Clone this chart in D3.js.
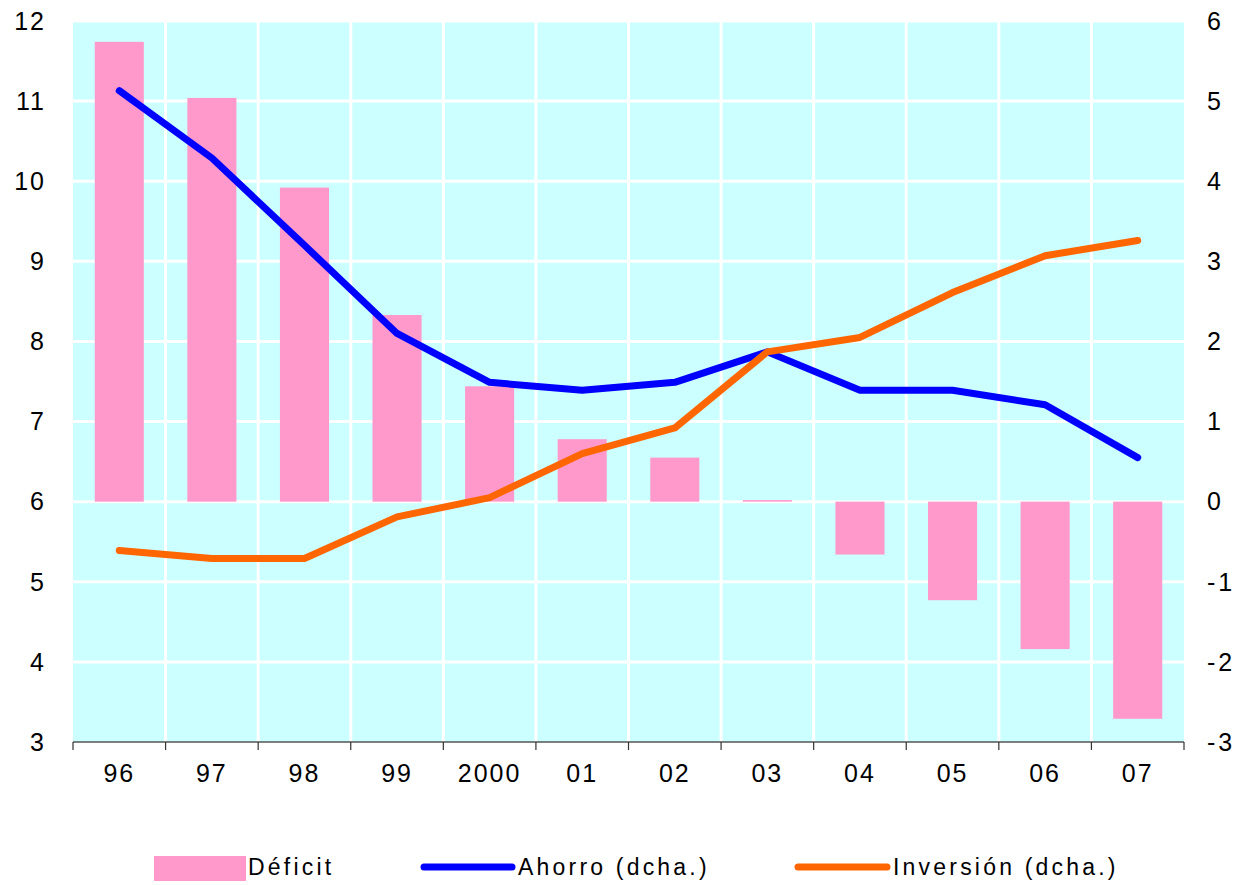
<!doctype html>
<html>
<head>
<meta charset="utf8">
<script src="https://d3js.org/d3.v7.min.js"></script>
<style>
  body { margin: 0; background: #fff; }
  text { font-family: "Liberation Sans", Arial, sans-serif; fill: #000; }
</style>
</head>
<body>
<svg width="1240" height="885"></svg>
<script>
// data
var years = ["96", "97", "98", "99", "2000", "01", "02", "03", "04", "05", "06", "07"];
var deficit = [5.74, 5.04, 3.92, 2.33, 1.44, 0.78, 0.55, 0.02, -0.66, -1.23, -1.84, -2.71];
var ahorro = [5.13, 4.29, 3.2, 2.1, 1.49, 1.39, 1.49, 1.87, 1.39, 1.39, 1.21, 0.55];
var inversion = [-0.61, -0.71, -0.71, -0.19, 0.05, 0.6, 0.92, 1.87, 2.05, 2.61, 3.07, 3.26];
var leftTicks = [3, 4, 5, 6, 7, 8, 9, 10, 11, 12];
var rightTicks = [-3, -2, -1, 0, 1, 2, 3, 4, 5, 6];

var svg = d3.select("svg");
var pLeft = 73, pRight = 1184, pTop = 21, pBottom = 742;

var x = d3.scaleBand().domain(years).range([pLeft, pRight]).padding(0);
var yL = d3.scaleLinear().domain([3, 12]).range([pBottom, pTop]);
var yR = d3.scaleLinear().domain([-3, 6]).range([pBottom, pTop]);

// plot background
svg.append("rect")
   .attr("x", pLeft).attr("y", pTop)
   .attr("width", pRight - pLeft).attr("height", pBottom - pTop)
   .attr("fill", "#ccffff");

// grid lines
svg.append("g").selectAll("line")
   .data(leftTicks.slice(1))
   .enter().append("line")
   .attr("x1", pLeft).attr("x2", pRight)
   .attr("y1", function(d) { return yL(d); })
   .attr("y2", function(d) { return yL(d); })
   .attr("stroke", "#fff").attr("stroke-width", 3);

svg.append("g").selectAll("line")
   .data(years.slice(1))
   .enter().append("line")
   .attr("x1", function(d) { return x(d); })
   .attr("x2", function(d) { return x(d); })
   .attr("y1", pTop).attr("y2", pBottom)
   .attr("stroke", "#fff").attr("stroke-width", 3);

// bars
var bw = x.bandwidth() * 0.53;
svg.append("g").selectAll("rect")
   .data(deficit)
   .enter().append("rect")
   .attr("x", function(d, i) { return x(years[i]) + (x.bandwidth() - bw) / 2; })
   .attr("y", function(d) { return yR(Math.max(d, 0)); })
   .attr("width", bw)
   .attr("height", function(d) { return Math.max(Math.abs(yR(d) - yR(0)), 1.5); })
   .attr("fill", "#ff99cc");

// lines
var line = d3.line()
    .x(function(d, i) { return x(years[i]) + x.bandwidth() / 2; })
    .y(function(d) { return yR(d); });

svg.append("path").datum(ahorro)
   .attr("d", line).attr("fill", "none")
   .attr("stroke", "#0000ff").attr("stroke-width", 7)
   .attr("stroke-linecap", "round").attr("stroke-linejoin", "round");

svg.append("path").datum(inversion)
   .attr("d", line).attr("fill", "none")
   .attr("stroke", "#ff6600").attr("stroke-width", 7)
   .attr("stroke-linecap", "round").attr("stroke-linejoin", "round");

// bottom axis
var xAxis = svg.append("g");
xAxis.append("line")
   .attr("x1", pLeft).attr("x2", pRight)
   .attr("y1", pBottom).attr("y2", pBottom)
   .attr("stroke", "#555").attr("stroke-width", 1.5);
xAxis.selectAll(".tk")
   .data(years.concat(["end"]))
   .enter().append("line")
   .attr("class", "tk")
   .attr("x1", function(d, i) { return i < years.length ? x(d) : pRight; })
   .attr("x2", function(d, i) { return i < years.length ? x(d) : pRight; })
   .attr("y1", pBottom).attr("y2", pBottom + 8)
   .attr("stroke", "#333").attr("stroke-width", 1.2);
xAxis.selectAll("text")
   .data(years)
   .enter().append("text")
   .attr("x", function(d) { return x(d) + x.bandwidth() / 2; })
   .attr("y", 782)
   .attr("text-anchor", "middle")
   .attr("font-size", "25px")
   .attr("letter-spacing", "2px")
   .text(function(d) { return d; });

// left / right tick labels
svg.append("g").selectAll("text")
   .data(leftTicks)
   .enter().append("text")
   .attr("x", 46)
   .attr("y", function(d) { return yL(d); })
   .attr("dy", "0.35em")
   .attr("text-anchor", "end")
   .attr("font-size", "25px")
   .attr("letter-spacing", "2px")
   .text(function(d) { return d; });

svg.append("g").selectAll("text")
   .data(rightTicks)
   .enter().append("text")
   .attr("x", 1207)
   .attr("y", function(d) { return yR(d); })
   .attr("dy", "0.35em")
   .attr("text-anchor", "start")
   .attr("font-size", "25px")
   .attr("letter-spacing", function(d) { return d < 0 ? "3px" : "0px"; })
   .text(function(d) { return d; });

// legend
var lg = svg.append("g");
var ly = 867;
lg.append("rect").attr("x", 154).attr("y", 856).attr("width", 92).attr("height", 25).attr("fill", "#ff99cc");
lg.append("text").attr("x", 248).attr("y", ly).attr("dy", "0.35em")
  .attr("font-size", "23px").attr("letter-spacing", "3.2px").text("Déficit");
lg.append("line").attr("x1", 424).attr("x2", 512).attr("y1", ly).attr("y2", ly)
  .attr("stroke", "#0000ff").attr("stroke-width", 7).attr("stroke-linecap", "round");
lg.append("text").attr("x", 518).attr("y", ly).attr("dy", "0.35em")
  .attr("font-size", "23px").attr("letter-spacing", "3.2px").text("Ahorro (dcha.)");
lg.append("line").attr("x1", 798).attr("x2", 887).attr("y1", ly).attr("y2", ly)
  .attr("stroke", "#ff6600").attr("stroke-width", 7).attr("stroke-linecap", "round");
lg.append("text").attr("x", 893).attr("y", ly).attr("dy", "0.35em")
  .attr("font-size", "23px").attr("letter-spacing", "3.2px").text("Inversión (dcha.)");
</script>
</body>
</html>
